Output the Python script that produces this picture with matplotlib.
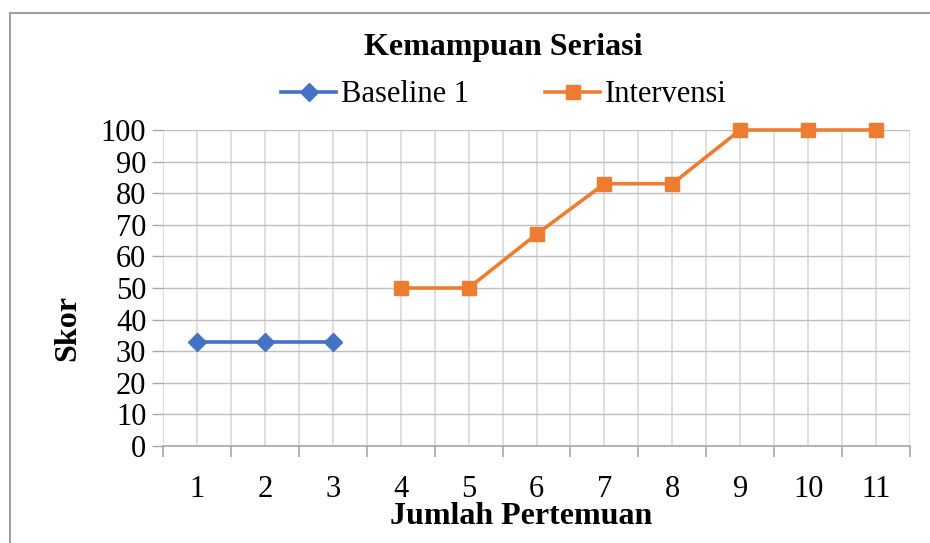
import matplotlib
matplotlib.use("Agg")
import matplotlib.pyplot as plt
from matplotlib.lines import Line2D
from matplotlib.ticker import MultipleLocator

# data
baseline_x = [1, 2, 3]
baseline_y = [33, 33, 33]
intervensi_x = [4, 5, 6, 7, 8, 9, 10, 11]
intervensi_y = [50, 50, 67, 83, 83, 100, 100, 100]
x_labels = [str(i) for i in range(1, 12)]

plt.rcParams['font.family'] = ['Liberation Serif', 'DejaVu Serif']

BLUE = '#4472C4'
ORANGE = '#ED7D31'
GRID = '#D9D9D9'

fig = plt.figure(figsize=(9.3, 5.43), dpi=100)
ax = fig.add_axes([163 / 930, 1 - 446 / 543, (910 - 163) / 930, (446 - 130) / 543])

ax.plot(baseline_x, baseline_y, color=BLUE, lw=2.6, marker='D', ms=9,
        label='Baseline 1', zorder=3, clip_on=False)
ax.plot(intervensi_x, intervensi_y, color=ORANGE, lw=2.6, marker='s', ms=10,
        label='Intervensi', zorder=3, clip_on=False)

ax.set_xlim(0.5, 11.5)
ax.set_ylim(0, 100)
ax.set_xticks(range(1, 12))
ax.set_xticklabels(x_labels)
ax.xaxis.set_minor_locator(MultipleLocator(1, offset=0.5))
ax.yaxis.set_major_locator(MultipleLocator(10))

ax.grid(True, which='both', axis='x', color=GRID, lw=1.2)
ax.grid(True, which='major', axis='y', color='#BFBFBF', lw=1.0)
ax.set_axisbelow(True)

for s in ['top', 'right', 'left']:
    ax.spines[s].set_visible(False)
ax.spines['bottom'].set_color('#A6A6A6')
ax.spines['bottom'].set_linewidth(1.2)

ax.tick_params(axis='x', which='major', length=0, pad=21, labelsize=22)
ax.tick_params(axis='x', which='minor', length=8, color='#A6A6A6', width=1.2)
ax.tick_params(axis='y', length=8, color='#A6A6A6', width=1.0, labelsize=22, pad=4)

fig.text(503 / 930, 1 - 47 / 543, 'Kemampuan Seriasi', ha='center', va='center',
         fontsize=23, fontweight='bold')
fig.text(521 / 930, 1 - 517 / 543, 'Jumlah Pertemuan', ha='center', va='center',
         fontsize=23, fontweight='bold')
fig.text(68 / 930, 1 - 328 / 543, 'Skor', ha='center', va='center',
         fontsize=23, fontweight='bold', rotation=90)

handles, labels = ax.get_legend_handles_labels()
fig.legend(handles, labels, loc='center', bbox_to_anchor=(504 / 930, 1 - 95 / 543),
           ncol=2, frameon=False, fontsize=22, handlelength=1.8, handletextpad=0.15,
           columnspacing=2.5, borderaxespad=0, borderpad=0)

# chart border: only the top and left edges fall inside the image
top = 1 - 13 / 543
left = 10 / 930
fig.add_artist(Line2D([left, 1.0], [top, top], transform=fig.transFigure,
                      color='#A0A0A0', lw=1.5))
fig.add_artist(Line2D([left, left], [0, top], transform=fig.transFigure,
                      color='#A0A0A0', lw=1.5))

fig.savefig('out.png', dpi=100)
